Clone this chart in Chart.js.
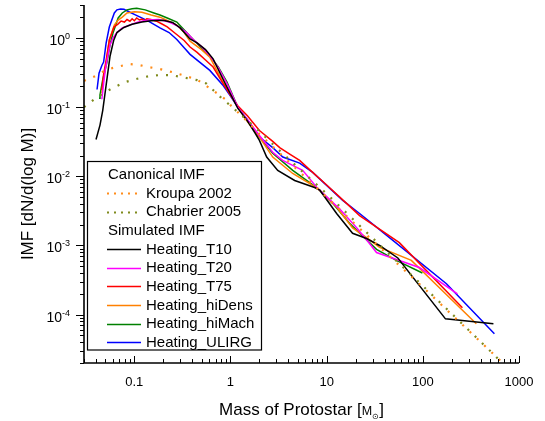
<!DOCTYPE html>
<html>
<head>
<meta charset="utf-8">
<script src="https://cdn.jsdelivr.net/npm/chart.js@4"></script>
<style>
  html, body { margin: 0; padding: 0; background: #fff; }
  #wrap { position: relative; width: 545px; height: 421px; }
</style>
</head>
<body>
<div id="wrap"><canvas id="imf-chart"></canvas></div>
<script>
// Canonical IMFs
const kroupaMass = [0.03, 0.039, 0.05, 0.06, 0.076, 0.09, 0.11, 0.14, 0.185, 0.25, 0.32, 0.45, 0.57, 0.72, 0.92, 1.0, 1.4, 2.0, 3.0, 5.0, 10, 20, 50, 100, 200, 500, 1000];
const kroupaImf = [0.24, 0.28, 0.34, 0.37, 0.40, 0.42, 0.41, 0.38, 0.355, 0.32, 0.29, 0.25, 0.2, 0.16, 0.125, 0.107, 0.068, 0.041, 0.024, 0.0123, 0.005, 0.002, 0.00061, 0.00025, 0.0001, 0.00003, 0.000012];

const chabrierMass = [0.03, 0.041, 0.05, 0.06, 0.08, 0.11, 0.14, 0.18, 0.245, 0.32, 0.45, 0.56, 0.66, 0.81, 1.0, 1.4, 2.0, 3.0, 5.0, 10, 20, 50, 100, 200, 500, 1000];
const chabrierImf = [0.1, 0.14, 0.165, 0.19, 0.23, 0.26, 0.28, 0.29, 0.29, 0.27, 0.246, 0.22, 0.177, 0.135, 0.105, 0.07, 0.045, 0.026, 0.0135, 0.0056, 0.0022, 0.00065, 0.00026, 0.000103, 0.00003, 0.0000115];

// Simulated IMFs
const t10Mass = [0.040, 0.044, 0.047, 0.051, 0.056, 0.061, 0.066, 0.078, 0.095, 0.12, 0.15, 0.2, 0.25, 0.3, 0.38, 0.45, 0.55, 0.66, 0.83, 1.0, 1.19, 1.48, 1.79, 2.0, 2.38, 3.1, 4.65, 7.5, 8.5, 12.7, 18.6, 26, 35.5, 55, 172, 542];
const t10Imf = [0.034, 0.055, 0.09, 0.21, 0.55, 0.92, 1.2, 1.42, 1.58, 1.7, 1.78, 1.8, 1.68, 1.4, 0.97, 0.85, 0.68, 0.5, 0.26, 0.155, 0.097, 0.065, 0.043, 0.033, 0.019, 0.0122, 0.0087, 0.0069, 0.0063, 0.0029, 0.0015, 0.00126, 0.001, 0.00066, 0.000087, 0.000074];

const t20Mass = [0.046, 0.048, 0.050, 0.052, 0.056, 0.06, 0.066, 0.075, 0.09, 0.11, 0.14, 0.18, 0.23, 0.28, 0.35, 0.41, 0.5, 0.61, 0.75, 0.92, 1.19, 1.5, 2.0, 2.75, 3.49, 5.63, 8.07, 13.6, 20.5, 27.9, 33, 92, 229];
const t20Imf = [0.13, 0.22, 0.35, 0.48, 0.8, 1.0, 1.2, 1.4, 1.55, 1.7, 1.82, 1.85, 1.7, 1.5, 1.2, 0.95, 0.75, 0.56, 0.37, 0.22, 0.1, 0.066, 0.039, 0.0223, 0.017, 0.0122, 0.0067, 0.0034, 0.0018, 0.00107, 0.00079, 0.00048, 0.0002];

const t75Mass = [0.046, 0.048, 0.051, 0.055, 0.0615, 0.068, 0.073, 0.079, 0.084, 0.09, 0.095, 0.1, 0.106, 0.113, 0.12, 0.128, 0.135, 0.149, 0.17, 0.19, 0.22, 0.26, 0.33, 0.38, 0.45, 0.55, 0.66, 0.83, 1.0, 1.19, 1.5, 2.0, 2.75, 3.25, 4.13, 5.24, 6.65, 10, 16, 22, 57, 258];
const t75Imf = [0.177, 0.3, 0.48, 0.93, 1.44, 1.6, 1.76, 1.7, 1.85, 1.75, 1.9, 1.78, 1.95, 1.82, 1.88, 1.78, 1.9, 1.85, 1.75, 1.62, 1.45, 1.2, 0.92, 0.74, 0.62, 0.48, 0.38, 0.225, 0.15, 0.105, 0.075, 0.046, 0.032, 0.026, 0.021, 0.017, 0.0125, 0.0075, 0.0041, 0.0027, 0.0011, 0.000126];

const hiDensMass = [0.046, 0.048, 0.051, 0.055, 0.062, 0.068, 0.075, 0.084, 0.1, 0.12, 0.15, 0.185, 0.22, 0.277, 0.33, 0.38, 0.5, 0.61, 0.83, 1.0, 1.19, 1.5, 2.0, 2.75, 4.44, 8.07, 12.7, 18.6, 26, 35.5, 76, 360];
const hiDensImf = [0.16, 0.26, 0.43, 0.94, 1.54, 1.82, 2.0, 2.3, 2.4, 2.35, 2.15, 2.0, 1.8, 1.54, 1.2, 0.9, 0.68, 0.53, 0.235, 0.15, 0.1, 0.062, 0.037, 0.019, 0.011, 0.0067, 0.0036, 0.0018, 0.0013, 0.00094, 0.00061, 0.000074];

const hiMachMass = [0.043, 0.044, 0.047, 0.052, 0.056, 0.06, 0.068, 0.075, 0.084, 0.095, 0.106, 0.13, 0.16, 0.185, 0.22, 0.277, 0.35, 0.41, 0.5, 0.61, 0.75, 0.92, 1.19, 1.5, 2.0, 2.75, 4.44, 8.07, 11.5, 17.3, 27.9, 33, 53, 99];
const hiMachImf = [0.135, 0.15, 0.25, 0.45, 0.8, 1.18, 1.95, 2.3, 2.55, 2.65, 2.7, 2.55, 2.3, 2.15, 1.95, 1.7, 1.2, 0.95, 0.72, 0.55, 0.38, 0.23, 0.1, 0.064, 0.037, 0.0216, 0.0122, 0.0067, 0.0041, 0.0021, 0.0011, 0.00088, 0.00061, 0.0004];

const ulirgMass = [0.041, 0.043, 0.046, 0.048, 0.051, 0.055, 0.062, 0.066, 0.072, 0.078, 0.088, 0.1, 0.115, 0.14, 0.185, 0.23, 0.277, 0.33, 0.38, 0.61, 0.83, 1.0, 1.19, 1.5, 2.0, 2.75, 3.5, 5.24, 7.16, 10, 14.7, 22, 35.5, 176, 555];
const ulirgImf = [0.18, 0.31, 0.4, 0.45, 0.85, 1.44, 2.3, 2.55, 2.62, 2.6, 2.4, 2.2, 2.0, 1.75, 1.4, 1.2, 0.95, 0.72, 0.58, 0.34, 0.21, 0.145, 0.1, 0.066, 0.037, 0.026, 0.019, 0.0155, 0.0114, 0.0074, 0.0045, 0.0029, 0.0017, 0.00028, 0.000053];

// Axis ticks
const xTickValues = [0.1, 1, 10, 100, 1000];
const xTickLabels = ['0.1', '1', '10', '100', '1000'];
const yTickExponents = [0, -1, -2, -3, -4];

function toPoints(mass, imf) {
  return mass.map((m, i) => ({ x: m, y: imf[i] }));
}

const FONT = '"Liberation Sans", Arial, sans-serif';

// axes, labels and legend drawn by hand
const decorPlugin = {
  id: 'decor',
  afterDraw(chart) {
    const ctx = chart.ctx;
    const xs = chart.scales.x;
    const ys = chart.scales.y;
    const area = chart.chartArea;
    ctx.save();
    ctx.strokeStyle = '#000';
    ctx.fillStyle = '#000';

    // axis lines
    ctx.lineWidth = 1.6;
    ctx.beginPath();
    ctx.moveTo(area.left, area.top);
    ctx.lineTo(area.left, area.bottom);
    ctx.lineTo(area.right, area.bottom);
    ctx.stroke();

    // x ticks (inward)
    ctx.lineWidth = 1;
    for (let e = -2; e <= 3; e++) {
      for (let k = 1; k <= 9; k++) {
        const v = k * Math.pow(10, e);
        if (v < xs.min * 0.999 || v > xs.max * 1.001) continue;
        const px = Math.round(xs.getPixelForValue(v)) + 0.5;
        const len = k === 1 ? 7 : 4;
        ctx.beginPath();
        ctx.moveTo(px, area.bottom);
        ctx.lineTo(px, area.bottom - len);
        ctx.stroke();
      }
    }
    // y ticks (outward)
    for (let e = -5; e <= 0; e++) {
      for (let k = 1; k <= 9; k++) {
        const v = k * Math.pow(10, e);
        if (v < ys.min * 0.999 || v > ys.max * 1.001) continue;
        const py = Math.round(ys.getPixelForValue(v)) + 0.5;
        const len = k === 1 ? 8 : 4;
        ctx.beginPath();
        ctx.moveTo(area.left, py);
        ctx.lineTo(area.left - len, py);
        ctx.stroke();
      }
    }

    // x tick labels
    ctx.font = '13px ' + FONT;
    ctx.textAlign = 'center';
    ctx.textBaseline = 'alphabetic';
    xTickValues.forEach((v, i) => {
      ctx.fillText(xTickLabels[i], xs.getPixelForValue(v), area.bottom + 23);
    });

    // y tick labels 10^n
    const baseFont = '14px ' + FONT;
    const supFont = '9px ' + FONT;
    const labelRight = 70;
    ctx.textAlign = 'left';
    yTickExponents.forEach(e => {
      const py = ys.getPixelForValue(Math.pow(10, e));
      const sup = e === 0 ? '0' : '-' + Math.abs(e);
      ctx.font = supFont;
      const supW = ctx.measureText(sup).width;
      ctx.font = baseFont;
      const baseW = ctx.measureText('10').width;
      ctx.fillText('10', labelRight - supW - baseW, py + 7);
      ctx.font = supFont;
      ctx.fillText(sup, labelRight - supW, py + 1);
    });

    // x axis title with subscript sun symbol
    const partA = 'Mass of Protostar [';
    const partM = 'M';
    const partSun = '\u2299';
    const partB = ']';
    ctx.font = '17px ' + FONT;
    const wA = ctx.measureText(partA).width;
    const wB = ctx.measureText(partB).width;
    ctx.font = '12.5px ' + FONT;
    const wM = ctx.measureText(partM).width;
    ctx.font = '8px ' + FONT;
    const wS = ctx.measureText(partSun).width;
    let tx = (area.left + area.right) / 2 - (wA + wM + wS + wB) / 2;
    const ty = 415;
    ctx.font = '17px ' + FONT;
    ctx.fillText(partA, tx, ty); tx += wA;
    ctx.font = '12.5px ' + FONT;
    ctx.fillText(partM, tx, ty); tx += wM;
    ctx.font = '8px ' + FONT;
    ctx.fillText(partSun, tx, ty + 4); tx += wS;
    ctx.font = '17px ' + FONT;
    ctx.fillText(partB, tx, ty);

    // y axis title
    ctx.save();
    ctx.translate(28, 194);
    ctx.rotate(-Math.PI / 2);
    ctx.textAlign = 'center';
    ctx.textBaseline = 'middle';
    ctx.font = '17px ' + FONT;
    ctx.fillText('IMF [dN/d(log M)]', 0, 0);
    ctx.restore();

    // legend
    const box = { left: 87.5, top: 161.5, right: 261.5, bottom: 350 };
    ctx.fillStyle = '#fff';
    ctx.fillRect(box.left, box.top, box.right - box.left, box.bottom - box.top);
    ctx.strokeStyle = '#000';
    ctx.lineWidth = 1.2;
    ctx.strokeRect(box.left, box.top, box.right - box.left, box.bottom - box.top);
    ctx.font = '15px ' + FONT;
    ctx.textBaseline = 'middle';
    ctx.textAlign = 'left';
    let row = 0;
    let lastGroup = null;
    chart.data.datasets.forEach(ds => {
      if (ds.group !== lastGroup) {
        ctx.fillStyle = '#000';
        ctx.fillText(ds.group, 108, 174.5 + 18.66 * row);
        row++;
        lastGroup = ds.group;
      }
      const ry = 174.5 + 18.66 * row;
      ctx.strokeStyle = ds.borderColor;
      ctx.lineWidth = ds.borderWidth;
      ctx.setLineDash(ds.borderDash ? [2, 5] : []);
      ctx.beginPath();
      ctx.moveTo(107, Math.round(ry) + 0.5);
      ctx.lineTo(141, Math.round(ry) + 0.5);
      ctx.stroke();
      ctx.setLineDash([]);
      ctx.fillStyle = '#000';
      ctx.fillText(ds.label, 146, ry + 0.5);
      row++;
    });
    ctx.restore();
  }
};

new Chart(document.getElementById('imf-chart'), {
  type: 'scatter',
  data: {
    datasets: [
      { label: 'Kroupa 2002', group: 'Canonical IMF', data: toPoints(kroupaMass, kroupaImf), borderColor: '#ff8c1a', borderDash: [2, 8], borderWidth: 2.2 },
      { label: 'Chabrier 2005', group: 'Canonical IMF', data: toPoints(chabrierMass, chabrierImf), borderColor: '#7f8a1c', borderDash: [2, 8], borderWidth: 2.2 },
      { label: 'Heating_T10', group: 'Simulated IMF', data: toPoints(t10Mass, t10Imf), borderColor: '#000000', borderWidth: 1.5 },
      { label: 'Heating_T20', group: 'Simulated IMF', data: toPoints(t20Mass, t20Imf), borderColor: '#ff00ff', borderWidth: 1.5 },
      { label: 'Heating_T75', group: 'Simulated IMF', data: toPoints(t75Mass, t75Imf), borderColor: '#ff0000', borderWidth: 1.5 },
      { label: 'Heating_hiDens', group: 'Simulated IMF', data: toPoints(hiDensMass, hiDensImf), borderColor: '#ff8000', borderWidth: 1.5 },
      { label: 'Heating_hiMach', group: 'Simulated IMF', data: toPoints(hiMachMass, hiMachImf), borderColor: '#008000', borderWidth: 1.5 },
      { label: 'Heating_ULIRG', group: 'Simulated IMF', data: toPoints(ulirgMass, ulirgImf), borderColor: '#0000ff', borderWidth: 1.5 }
    ].map(ds => Object.assign({ showLine: true, pointRadius: 0, tension: 0, backgroundColor: ds.borderColor }, ds))
  },
  options: {
    responsive: true,
    maintainAspectRatio: false,
    animation: false,
    devicePixelRatio: 1,
    layout: { padding: { top: 5, right: 26, left: 0, bottom: 0 } },
    plugins: {
      legend: { display: false },
      tooltip: { enabled: false }
    },
    scales: {
      x: {
        type: 'logarithmic',
        min: 0.03,
        max: 1000,
        grid: { display: false },
        border: { display: false },
        ticks: { display: false },
        afterFit: scale => { scale.height = 58; }
      },
      y: {
        type: 'logarithmic',
        min: 2e-5,
        max: 3,
        grid: { display: false },
        border: { display: false },
        ticks: { display: false },
        afterFit: scale => { scale.width = 84; }
      }
    }
  },
  plugins: [decorPlugin]
});
</script>
</body>
</html>
